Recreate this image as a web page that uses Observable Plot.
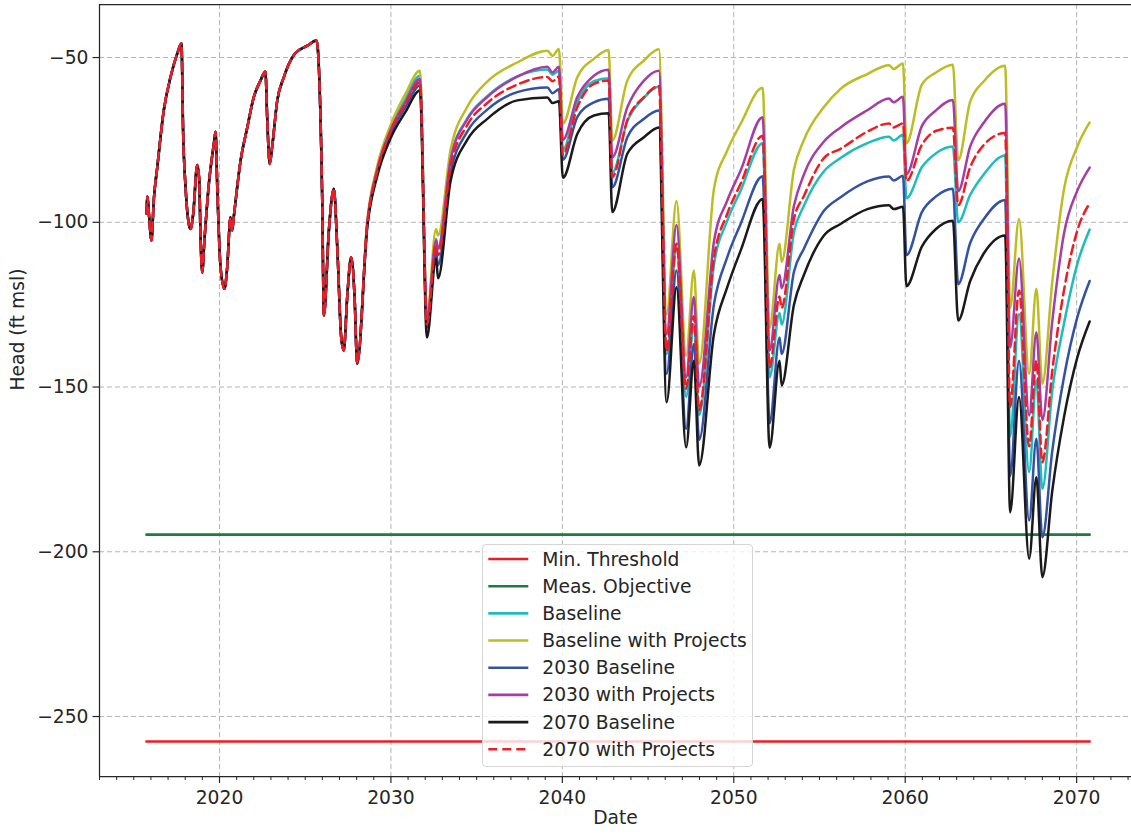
<!DOCTYPE html>
<html>
<head>
<meta charset="utf-8">
<script src="https://cdn.jsdelivr.net/npm/d3@7"></script>
<script src="https://cdn.jsdelivr.net/npm/@observablehq/plot@0.6"></script>
<style>
html, body { margin: 0; padding: 0; background: #fff; }
#wrap { position: relative; width: 1131px; height: 835px; font-family: "DejaVu Sans", sans-serif; }
#legend { position: absolute; left: 482px; top: 544px; width: 271px; height: 223px; box-sizing: border-box;
  border: 1px solid #d5d5d5; border-radius: 4px; background: rgba(255,255,255,0.8); }
</style>
</head>
<body>
<div id="wrap"><div id="legend"></div></div>
<script>
// ---- Shared history (all scenarios identical) ----
const histYears = [2015.74, 2015.80, 2015.89, 2016.03, 2016.17, 2016.37, 2016.75, 2017.14, 2017.53, 2017.78,
  2017.88, 2018.02, 2018.21, 2018.31, 2018.47, 2018.70, 2018.82, 2018.89, 2018.99, 2019.12,
  2019.38, 2019.67, 2019.77, 2019.87, 2020.06, 2020.29, 2020.45, 2020.64, 2020.74, 2020.83,
  2021.23, 2021.62, 2022.00, 2022.39, 2022.68, 2022.78, 2022.93, 2023.07, 2023.37, 2023.75,
  2024.40, 2025.12, 2025.66, 2025.99, 2026.09, 2026.38, 2026.67, 2026.87, 2027.10, 2027.25,
  2027.45, 2027.68, 2027.88, 2028.03];
const histHead = [-97.3, -92.2, -98, -105.5, -93, -83.3, -66, -56, -48.9, -45.7,
  -73, -89.4, -100.5, -102, -97.3, -82.6, -87.3, -103.4, -115.2, -105.5,
  -88.3, -76.2, -72.5, -89.4, -113.6, -120.2, -113.6, -98.5, -102.5, -98.5,
  -81.3, -71.2, -62, -57, -54.2, -68, -82.3, -77.2, -63, -56,
  -48.8, -46.4, -44.8, -92.4, -128.3, -102.5, -89.8, -107.6, -134.9, -138.9,
  -122.7, -110.6, -122.7, -142.9];

// ---- Scenario period ----
const projYears = [2028.62, 2029.20, 2029.98, 2030.85, 2031.69, 2032.10, 2032.63, 2032.75, 2033.48, 2034.45,
  2035.62, 2037.37, 2039.12, 2039.43, 2039.80, 2040.03, 2040.87, 2041.84, 2042.70, 2042.91,
  2043.79, 2044.76, 2045.63, 2046.08, 2046.66, 2047.22, 2047.67, 2047.98, 2048.84, 2049.62,
  2050.40, 2051.68, 2052.09, 2052.67, 2052.79, 2053.51, 2054.09, 2055.26, 2056.23, 2057.79,
  2059.05, 2059.32, 2059.87, 2060.07, 2060.97, 2061.78, 2062.78, 2063.09, 2063.79, 2064.59,
  2065.83, 2066.12, 2066.64, 2067.23, 2067.65, 2068.00, 2068.58, 2069.26, 2070.04, 2070.76];

const baseline = [-100.5, -83.8, -71.5, -62.5, -55.5, -130, -105, -108, -80.5, -68.5,
  -61.7, -55.7, -53.6, -55.2, -54, -78, -63.6, -57.2, -56.3, -85,
  -69.3, -62.2, -58.9, -140, -108, -153, -131, -158.5, -113, -99.5,
  -90.4, -76, -147, -127.5, -131, -103, -95, -84.5, -80.5, -76,
  -74, -75.2, -73.4, -92.7, -83.3, -79.1, -77, -100, -91.7, -85.4,
  -79.7, -165, -127.8, -175.8, -148, -180.9, -151, -130.8, -112.6, -102.2];

const baselineProjects = [-99.5, -83, -70.5, -61, -54, -128, -102, -104, -78, -65,
  -57.3, -51.5, -47.9, -49.5, -47.4, -70, -56, -50.4, -47.7, -75.2,
  -57, -50.9, -47.5, -128, -93.5, -140.5, -114.6, -143, -90, -78.2,
  -70.1, -59.2, -132, -106.5, -112, -84, -75, -65, -59.5, -55,
  -52.3, -53.5, -51.8, -76, -58.2, -54.6, -52.2, -81.2, -63.4, -57.2,
  -52.5, -126, -99, -146, -120.2, -149, -118, -90, -77, -69.7];

const baseline2030 = [-101, -85, -73.2, -65, -58.5, -132, -109, -113, -85, -72.5,
  -65.8, -60.5, -59.1, -60.8, -59.6, -81, -68.1, -63.6, -62.5, -89.4,
  -74.2, -68.6, -66.1, -146, -114.6, -162.7, -136.9, -166, -125, -110.6,
  -100.5, -86, -161, -135, -140, -115, -108, -96.5, -92.4, -87.6,
  -86.1, -87.3, -85.9, -110, -96.9, -92.2, -89.8, -118.8, -106.3, -99,
  -93.2, -177, -142, -190.5, -165.7, -195.6, -169.3, -147, -128.8, -117.8];

const projects2030 = [-100.3, -84, -72, -63.5, -56.5, -129.5, -105.5, -108, -81, -68.8,
  -62, -55.8, -52.8, -54.5, -52.8, -75, -62, -55.5, -53.7, -80.3,
  -65.1, -57, -54, -134, -100.8, -147, -122.7, -150, -106, -93.4,
  -84.3, -68.1, -139, -116, -120, -95, -85.5, -75.5, -71.2, -66,
  -62.4, -63.6, -61.9, -85.4, -70.8, -66.1, -62.9, -90.6, -77, -69.7,
  -64, -138, -111, -158.6, -133.4, -160, -130, -103.5, -90.4, -83.4];

const baseline2070 = [-101.5, -86, -74.5, -66.5, -60, -135, -111, -117, -87.5, -75,
  -68.6, -63, -62.1, -63.8, -63.3, -86.5, -73.2, -67.6, -66.9, -96.9,
  -79.2, -74.2, -71.2, -154.6, -119.7, -168.3, -142, -173.8, -134, -119.7,
  -108.6, -92.9, -168.4, -142, -149.5, -125, -116, -104, -100.5, -96,
  -94.8, -96, -95.3, -119.4, -107.4, -102.1, -99.5, -129.8, -117.8, -109.4,
  -104, -188, -153, -202.1, -177.4, -207.7, -181.4, -159.2, -141, -130.1];

const projects2070 = [-100.6, -84.5, -72.5, -64, -57.5, -131, -107, -110, -83, -70.5,
  -63.8, -58.2, -55.9, -57.2, -55.8, -79.5, -65.1, -58, -57, -86.3,
  -69, -62, -58.6, -139, -106.5, -150.5, -128.5, -157, -111, -97.4,
  -88.3, -73.7, -144, -122.5, -126, -99, -92, -80.5, -77.7, -72.5,
  -70, -71.2, -70, -87.5, -76.5, -72.3, -71.3, -94.8, -83.3, -76.5,
  -72.9, -156, -120.7, -168, -142, -172.8, -145, -120.7, -102.5, -94.2];

const minThreshold = -257.6;
const measObjective = -194.8;

const seriesNames = ["Min. Threshold", "Meas. Objective", "Baseline", "Baseline with Projects",
  "2030 Baseline", "2030 with Projects", "2070 Baseline", "2070 with Projects"];
const seriesColors = ["#ee1d23", "#1d7d3f", "#1fbcbc", "#bcbd22", "#3452a4", "#a43ea3", "#1a1a1a", "#ee1d23"];
const seriesDash = [null, null, null, null, null, null, null, "9,5"];

const xMajor = [2020, 2030, 2040, 2050, 2060, 2070];
const xMinor = d3.range(2013, 2074).filter(y => y % 10 !== 0);
const yMajor = [-250, -200, -150, -100, -50];
const xDomain = [2013.0, 2073.2];
const yDomain = [-268.2, -33.9];

// ---- build tables ----
const hist = histYears.map((t, i) => ({t, v: histHead[i]}));
function rows(vals) {
  return hist.concat(projYears.map((t, i) => ({t, v: vals[i]})));
}
const scenarioValues = [baseline, baselineProjects, baseline2030, projects2030, baseline2070, projects2070];
const tStart = histYears[0], tEnd = projYears[projYears.length - 1];
const levelRows = [minThreshold, measObjective].map(v => [{t: tStart, v}, {t: tEnd, v}]);

const fmt = d => d < 0 ? "\u2212" + Math.abs(d) : String(d);
const ink = "#262626";
const FS = 18.7;

const marks = [
  Plot.gridX(xMajor, {stroke: "#b4b4b4", strokeOpacity: 1, strokeWidth: 1, strokeDasharray: "5,3"}),
  Plot.gridY(yMajor, {stroke: "#b4b4b4", strokeOpacity: 1, strokeWidth: 1, strokeDasharray: "5,3"}),
];
levelRows.forEach((r, i) => marks.push(Plot.line(r, {x: "t", y: "v", stroke: seriesColors[i], strokeWidth: 2.6})));
scenarioValues.forEach((vals, i) => {
  const k = i + 2;
  const opts = {x: "t", y: "v", stroke: seriesColors[k], strokeWidth: 2.5, curve: "monotone-x"};
  if (seriesDash[k]) opts.strokeDasharray = seriesDash[k];
  marks.push(Plot.line(rows(vals), opts));
});
marks.push(
  Plot.axisX(xMinor, {tickSize: 4, tickFormat: () => "", label: null, stroke: ink}),
  Plot.axisX(xMajor, {tickSize: 7, tickPadding: 7, tickFormat: d => String(d), label: null, stroke: ink, strokeWidth: 1.2, fontSize: FS}),
  Plot.axisY(yMajor, {tickSize: 6.5, tickPadding: 4.5, tickFormat: fmt, label: null, stroke: ink, strokeWidth: 1.2, fontSize: FS}),
  Plot.ruleX([xDomain[0]], {stroke: ink, strokeWidth: 1.25}),
  Plot.ruleY([yDomain[0]], {stroke: ink, strokeWidth: 1.25}),
  Plot.ruleY([yDomain[1]], {stroke: ink, strokeWidth: 1.25}),
  Plot.text(["Date"], {frameAnchor: "bottom", dy: 47, text: d => d, fontSize: FS, fill: ink}),
  Plot.text(["Head (ft msl)"], {frameAnchor: "left", dx: -81, rotate: -90, text: d => d, fontSize: FS, fill: ink})
);

const chart = Plot.plot({
  width: 1131, height: 835,
  marginLeft: 99, marginRight: 0, marginTop: 4, marginBottom: 59,
  x: {domain: xDomain},
  y: {domain: yDomain},
  style: {fontFamily: "DejaVu Sans", fontSize: FS + "px", color: ink, background: "white", overflow: "visible"},
  marks
});
const wrap = document.getElementById("wrap");
wrap.insertBefore(chart, wrap.firstChild);

// ---- legend ----
const lg = d3.select("#legend").append("svg").attr("width", 269).attr("height", 221)
  .style("display", "block").style("font-family", "DejaVu Sans").style("font-size", FS + "px");
seriesNames.forEach((name, i) => {
  const y = 14 + i * 27.18;
  const ln = lg.append("line").attr("x1", 5.3).attr("x2", 45.3).attr("y1", y).attr("y2", y)
    .attr("stroke", seriesColors[i]).attr("stroke-width", 2.6);
  if (seriesDash[i]) ln.attr("stroke-dasharray", seriesDash[i]);
  lg.append("text").attr("x", 59.3).attr("y", y).attr("dy", "0.35em").attr("fill", ink).text(name);
});
</script>
</body>
</html>
